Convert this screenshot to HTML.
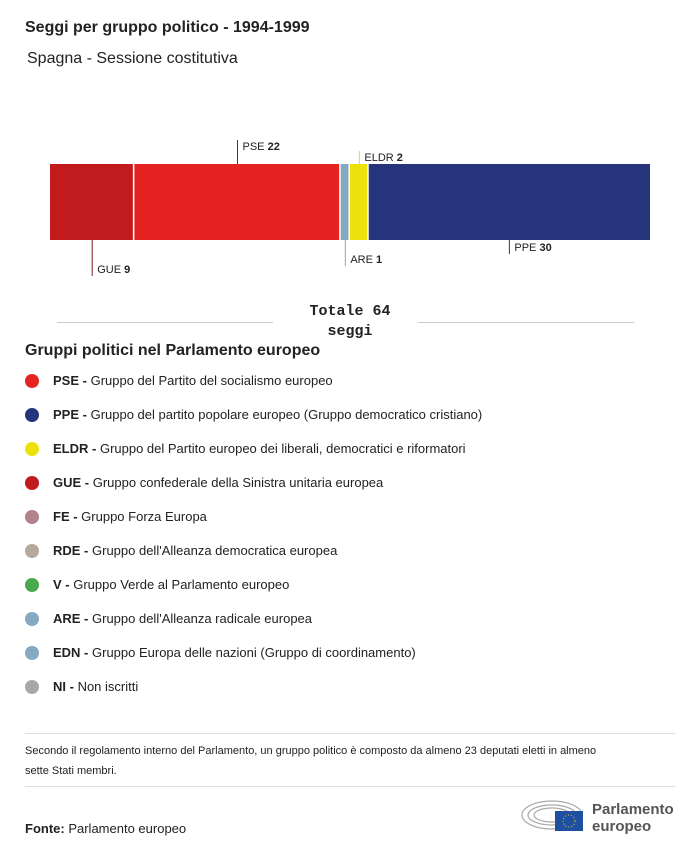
<!DOCTYPE html>
<html><head><meta charset="utf-8"><style>
body{margin:0;width:700px;height:854px;background:#fff;font-family:"Liberation Sans",sans-serif;color:#222;position:relative;overflow:hidden}
.a{position:absolute}
.leg{position:absolute;left:25px;font-size:13px;display:flex;align-items:center}
.dot{width:14px;height:14px;border-radius:50%;margin-right:14px}
</style></head><body>
<div class="a" style="left:25px;top:19px;font-size:16px;font-weight:bold">Seggi per gruppo politico - 1994-1999</div>
<div class="a" style="left:27px;top:50px;font-size:16px">Spagna - Sessione costitutiva</div>
<svg class="a" style="left:0;top:0" width="700" height="345" id="chart"></svg>
<div class="a" style="left:280px;top:302px;width:140px;text-align:center;font-family:'Liberation Mono',monospace;font-weight:bold;font-size:15px;line-height:20px">Totale 64<br>seggi</div>
<div class="a" style="left:57px;top:322px;width:216px;height:1px;background:#ccc"></div>
<div class="a" style="left:418px;top:322px;width:216px;height:1px;background:#ccc"></div>
<div class="a" style="left:25px;top:342px;font-size:16px;font-weight:bold">Gruppi politici nel Parlamento europeo</div>
<div id="legend"></div>
<div class="a" style="left:25px;top:733px;width:650px;height:1px;background:#ddd"></div>
<div class="a" style="left:25px;top:741px;font-size:11px;line-height:20px;width:650px">Secondo il regolamento interno del Parlamento, un gruppo politico è composto da almeno 23 deputati eletti in almeno<br>sette Stati membri.</div>
<div class="a" style="left:25px;top:786px;width:650px;height:1px;background:#ddd"></div>
<div class="a" style="left:25px;top:821px;font-size:13px"><b>Fonte:</b> Parlamento europeo</div>
<div class="a" style="left:520px;top:797px;width:160px;height:40px">
<svg width="70" height="40" style="position:absolute;left:0;top:0"><g fill="none" stroke="#aaa" stroke-width="1.2"><ellipse cx="32" cy="18" rx="30" ry="14"/><ellipse cx="32" cy="18" rx="24" ry="10"/><ellipse cx="32" cy="18" rx="18" ry="7"/></g><rect x="35" y="14" width="28" height="20" fill="#1f4fa0"/><circle cx="49" cy="24" r="6" fill="none" stroke="#f2d600" stroke-dasharray="1 2"/></svg>
<div style="position:absolute;left:72px;top:4px;font-size:15px;font-weight:bold;color:#555;line-height:17px">Parlamento<br>europeo</div></div>
<script>
const groups=["GUE","PSE","ARE","ELDR","PPE"];
const seats=[9,22,1,2,30];
const colors=["#c21b1e","#e52421","#84a9c0","#ede10c","#26357b"];
const lineColors=["#8a1a2a","#8a1a2a","#84a9c0","#ede10c","#26357b"];
const labelSide=["below","above","below","above","below"];
const svg=document.getElementById('chart');const NS="http://www.w3.org/2000/svg";
const total=seats.reduce((a,b)=>a+b,0);
const x0=50,W=600,barTop=164,barBot=240;
const sx=v=>x0+v/total*W;
let cum=0,ai=0,bi=0;
const belowLens=[36,26,14],aboveLens=[24,13];
seats.forEach((s,i)=>{
 const xa=sx(cum),xb=sx(cum+s);cum+=s;
 const r=document.createElementNS(NS,'rect');
 r.setAttribute('x',xa);r.setAttribute('y',barTop);r.setAttribute('width',Math.max(0,xb-xa-(i<seats.length-1?1.5:0)));r.setAttribute('height',barBot-barTop);r.setAttribute('fill',colors[i]);
 
 
 svg.appendChild(r);
 const mx=(xa+xb)/2;let y1,y2,ty;
 if(labelSide[i]==="above"){const L=aboveLens[ai++];y1=barTop-L;y2=barTop;ty=y1+10;}
 else{const L=belowLens[bi++];y1=barBot;y2=barBot+L;ty=y2-3;}
 const l=document.createElementNS(NS,'line');
 l.setAttribute('x1',mx);l.setAttribute('x2',mx);l.setAttribute('y1',y1);l.setAttribute('y2',y2);l.setAttribute('stroke',lineColors[i]);l.setAttribute('stroke-width',1);
 
 
 svg.appendChild(l);
 const t=document.createElementNS(NS,'text');
 t.setAttribute('x',mx+5);t.setAttribute('y',ty);t.setAttribute('font-size','11');t.setAttribute('fill','#222');
 t.innerHTML=groups[i]+' <tspan font-weight="bold">'+s+'</tspan>';
 
 
 svg.appendChild(t);
});
const legAbbr=["PSE","PPE","ELDR","GUE","FE","RDE","V","ARE","EDN","NI"];
const legText=["Gruppo del Partito del socialismo europeo","Gruppo del partito popolare europeo (Gruppo democratico cristiano)","Gruppo del Partito europeo dei liberali, democratici e riformatori","Gruppo confederale della Sinistra unitaria europea","Gruppo Forza Europa","Gruppo dell'Alleanza democratica europea","Gruppo Verde al Parlamento europeo","Gruppo dell'Alleanza radicale europea","Gruppo Europa delle nazioni (Gruppo di coordinamento)","Non iscritti"];
const legColors=["#e52421","#26357b","#ede10c","#c21b1e","#b0848a","#b4a99c","#4aa84e","#84a9c0","#84a9c0","#a8a8a8"];
const lg=document.getElementById('legend');
legAbbr.forEach((a,i)=>{
 const d=document.createElement('div');d.className='leg';d.style.top=(373+i*34)+'px';
 d.innerHTML='<span class="dot" style="background:'+legColors[i]+'"></span><span><b>'+a+' -</b> '+legText[i]+'</span>';
 
 
 lg.appendChild(d);
});
</script>
</body></html>
